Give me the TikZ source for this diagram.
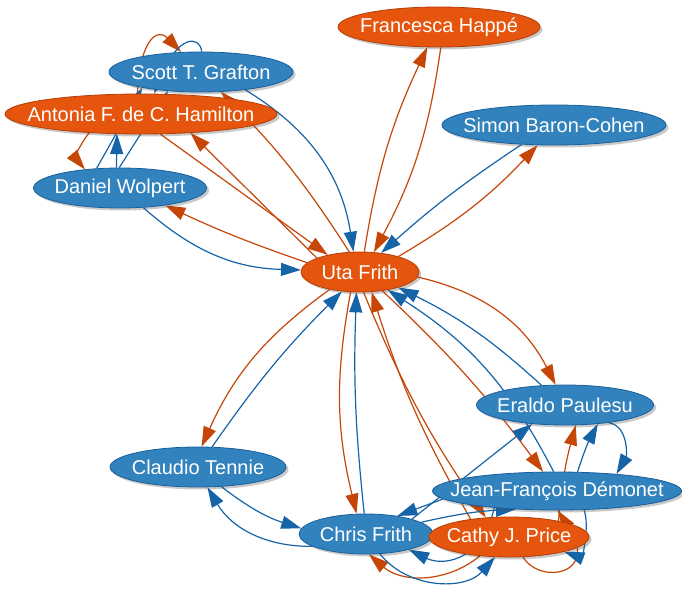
\documentclass[tikz,border=0pt]{standalone}
\usepackage{fontspec}
\setmainfont{Liberation Sans}
\usetikzlibrary{arrows.meta,shapes.geometric,shadows,backgrounds}
\definecolor{nodeblue}{RGB}{49,130,189}
\definecolor{nodebluedark}{RGB}{25,95,155}
\definecolor{nodeorange}{RGB}{230,85,13}
\definecolor{nodeorangedark}{RGB}{180,62,8}
\definecolor{edgeblue}{RGB}{22,100,168}
\definecolor{edgeorange}{RGB}{198,70,8}
\begin{document}
\begin{tikzpicture}[x=1pt,y=1pt,
  every node/.style={ellipse,minimum height=40pt,inner sep=0pt,text=white,
    font=\fontsize{20}{22}\selectfont,
    drop shadow={shadow xshift=2.5pt,shadow yshift=-2.5pt,opacity=.3,fill=black!70}},
  bnode/.style={fill=nodeblue,draw=nodebluedark,line width=.8pt},
  onode/.style={fill=nodeorange,draw=nodeorangedark,line width=.8pt},
  bedge/.style={edgeblue,line width=1.2pt,-{Triangle[length=20pt,width=13pt]}},
  oedge/.style={edgeorange,line width=1.2pt,-{Triangle[length=20pt,width=13pt]}}]
  \useasboundingbox (0,0) rectangle (682,-593);
  \node [onode,minimum width=202pt] (happe) at (439,-27) {\makebox[0pt]{Francesca Happé}};
  \node [bnode,minimum width=184pt] (grafton) at (201,-72) {\makebox[0pt]{Scott T. Grafton}};
  \node [onode,minimum width=272pt] (hamilton) at (141,-114) {\makebox[0pt]{Antonia F. de C. Hamilton}};
  \node [bnode,minimum width=224pt] (baron) at (554,-125) {\makebox[0pt]{Simon Baron-Cohen}};
  \node [bnode,minimum width=173pt] (wolpert) at (120,-188) {\makebox[0pt]{Daniel Wolpert}};
  \node [onode,minimum width=118pt] (uta) at (360,-272) {\makebox[0pt]{Uta Frith}};
  \node [bnode,minimum width=177pt] (paulesu) at (565,-405) {\makebox[0pt]{Eraldo Paulesu}};
  \node [bnode,minimum width=176pt] (tennie) at (198,-467) {\makebox[0pt]{Claudio Tennie}};
  \node [bnode,minimum width=249pt,minimum height=38pt] (demonet) at (557,-491) {\makebox[0pt]{Jean-François Démonet}};
  \node [bnode,minimum width=134pt] (chris) at (366,-534) {\makebox[0pt]{Chris Frith}};
  \node [onode,minimum width=160pt] (price) at (509,-537) {\makebox[0pt]{Cathy J. Price}};
  \begin{pgfonlayer}{background}
    \draw [oedge] (uta.78) to [bend left=8] (happe.-120);
    \draw [oedge] (happe.-85) to [bend left=10] (uta.55);
    \draw [bedge] (baron.-149) to [bend right=4] (uta.42);
    \draw [oedge] (uta.22) to [bend right=8] (baron.-129);
    \draw [bedge] (grafton.-22) to [bend left=25] (uta.108);
    \draw [oedge] (uta.118) to [bend right=6] (grafton.-45);
    \draw [oedge] (hamilton.-46) to (uta.152);
    \draw [oedge] (uta.162) to (hamilton.-21);
    \draw [oedge] (uta.170) to [bend left=3] (wolpert.-21);
    \draw [bedge] (wolpert.-40) to [bend right=20] (uta.178);
    \draw [oedge] (hamilton.100) .. controls (140,-38) and (158,-28) .. (grafton.135);
    \draw [bedge] (grafton.88) .. controls (200,-35) and (178,-35) .. (hamilton.57);
    \draw [oedge] (hamilton.-160) to [out=-130,in=130] (wolpert.152);
    \draw [bedge] (wolpert.100) to (hamilton.-140);
    \draw [bedge] (wolpert.140) to (grafton.-165);
    \draw [bedge] (wolpert.92) to (grafton.-150);
    \draw [oedge] (uta.-150) to [bend right=15] (tennie.80);
    \draw [bedge] (tennie.55) to [bend left=5] (uta.-133);
    \draw [bedge] (tennie.-40) to [bend right=10] (chris.175);
    \draw [bedge] (chris.-167) to [bend left=30] (tennie.-65);
    \draw [oedge] (uta.-115) to [bend right=12] (chris.115);
    \draw [bedge] (chris.95) to [bend left=4] (uta.-100);
    \draw [oedge] (price.155) to [bend left=6] (uta.-60);
    \draw [oedge] (uta.-80) to [bend right=6] (price.140);
    \draw [oedge] (uta.-40) to [bend left=5] (demonet.126);
    \draw [oedge] (uta.-5) to [bend left=25] (paulesu.115);
    \draw [bedge] (paulesu.140) to [bend right=8] (uta.-22);
    \draw [bedge] (demonet.100) to [bend right=15] (uta.-33);
    \draw [bedge] (chris.18) to (paulesu.-150);
    \draw [oedge] (price.18) to [bend left=5] (paulesu.-62);
    \draw [bedge] (demonet.43) to [bend left=5] (paulesu.-30);
    \draw [bedge] (paulesu.-22) to [out=-10,in=60] (demonet.16);
    \draw [bedge] (demonet.-176) to (chris.30);
    \draw [bedge] (demonet.-165) .. controls (480,-565) and (440,-565) .. (chris.-20);
    \draw [bedge] (chris.12) to [bend left=5] (demonet.-156);
    \draw [oedge] (price.-147) to [bend left=40] (chris.-82);
    \draw [bedge] (chris.-55) to [bend right=50] (price.-125);
    \draw [oedge] (price.-55) .. controls (540,-585) and (600,-575) .. (demonet.-88);
    \draw [bedge] (demonet.-35) to [out=-70,in=-20] (price.-15);
  \end{pgfonlayer}
\end{tikzpicture}
\end{document}
